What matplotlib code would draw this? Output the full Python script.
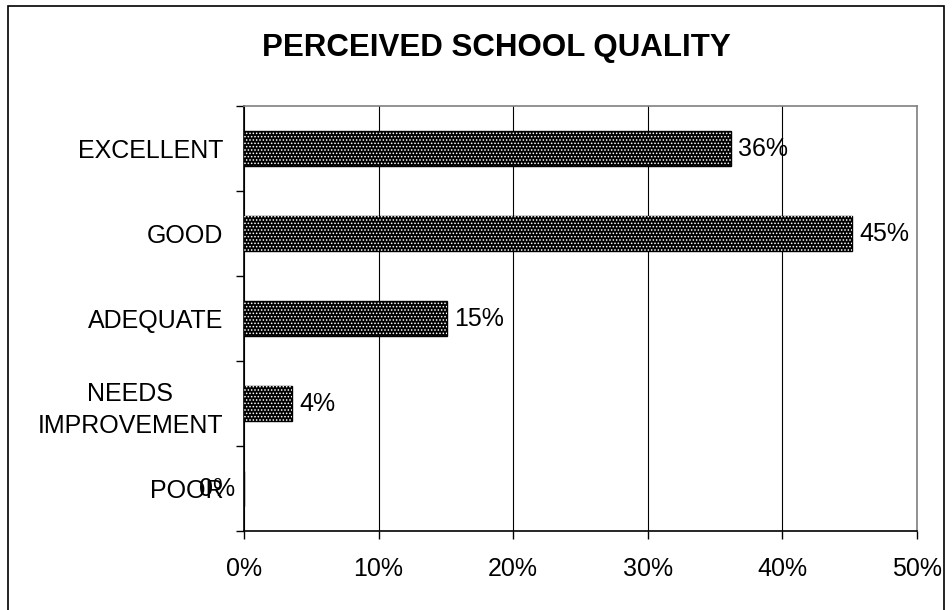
import matplotlib.pyplot as plt
from matplotlib.patches import Rectangle
from matplotlib.ticker import FuncFormatter

plt.rcParams['font.family'] = ['Liberation Sans', 'DejaVu Sans']

# datos
categorias = ['EXCELLENT', 'GOOD', 'ADEQUATE', 'NEEDS\nIMPROVEMENT', 'POOR']
valores = [36.2, 45.2, 15.1, 3.6, 0.0]
etiquetas = ['36%', '45%', '15%', '4%', '0%']
xticks = [0, 10, 20, 30, 40, 50]

fig = plt.figure(figsize=(9.52, 6.1), dpi=100)
ax = fig.add_axes([244 / 952, 79 / 610, 673 / 952, 425 / 610])

# marco exterior
fig.patches.append(Rectangle((8 / 952, -0.02), 936 / 952, 0.02 + 604 / 610,
                             transform=fig.transFigure, fill=False,
                             edgecolor='black', linewidth=1.2))

y = list(range(len(categorias)))
ax.barh(y, valores, height=0.41, color='black', edgecolor='black', linewidth=1, zorder=3)
plt.rcParams['hatch.linewidth'] = 0.7
ax.barh(y, valores, height=0.41, color='none', edgecolor='white', hatch='.....',
        linewidth=0, zorder=4)

for i in range(len(valores)):
    if valores[i] > 0:
        ax.annotate(etiquetas[i], (valores[i], y[i]), xytext=(5, 0), textcoords='offset points',
                    va='center', ha='left', fontsize=18, zorder=5)
    else:
        # excel dejo la etiqueta del 0% encima de POOR
        ax.annotate(etiquetas[i], (valores[i], y[i]), xytext=(-6.5, 0), textcoords='offset points',
                    va='center', ha='right', fontsize=18, zorder=5, annotation_clip=False)

ax.set_xlim(0, 50)
ax.set_ylim(len(categorias) - 0.5, -0.5)
ax.set_xticks(xticks)
ax.xaxis.set_major_formatter(FuncFormatter(lambda v, p: '%d%%' % v))
ax.set_yticks(y)
ax.set_yticklabels(categorias, multialignment='center', linespacing=1.4)
ax.set_yticks([i - 0.5 for i in range(len(categorias) + 1)], minor=True)
ax.tick_params(axis='y', which='major', length=0, pad=15, labelsize=18)
ax.tick_params(axis='y', which='minor', length=6, width=1, direction='out')
ax.tick_params(axis='x', length=6, width=1, direction='out', pad=13, labelsize=18)

ax.grid(True, axis='x', color='black', linewidth=0.8, zorder=0)
ax.spines['left'].set_color('black')
ax.spines['bottom'].set_color('black')
ax.spines['top'].set_color('#808080')
ax.spines['right'].set_color('#808080')
for s in ax.spines.values():
    s.set_linewidth(1.2)

fig.text(496 / 952, 1 - 48 / 610, 'PERCEIVED SCHOOL QUALITY', ha='center', va='center',
         fontsize=22.5, fontweight='bold')

plt.savefig('out.png', dpi=100)
